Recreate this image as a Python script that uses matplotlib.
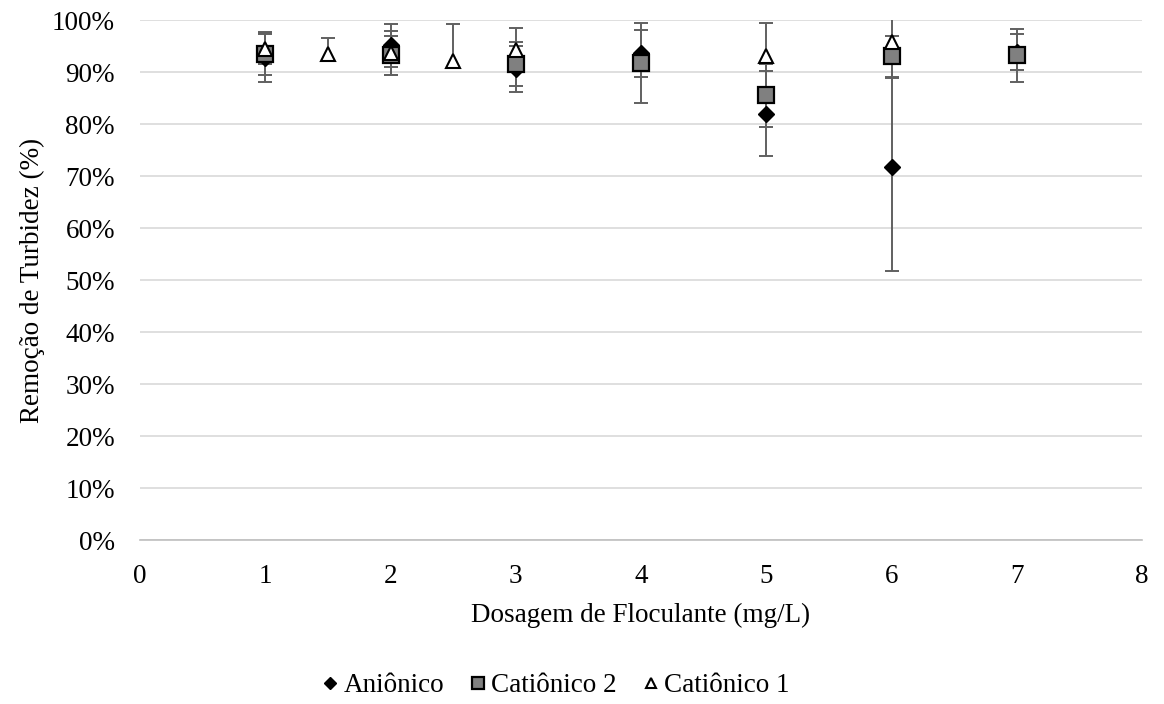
import matplotlib
matplotlib.use("Agg")
import matplotlib.pyplot as plt
from matplotlib.ticker import FuncFormatter, MultipleLocator

plt.rcParams["font.family"] = ["Liberation Serif", "DejaVu Serif"]

# Turbidity removal (%) versus flocculant dose (mg/L)
dose_anionico = [1, 2, 3, 4, 5, 6, 7]
rem_anionico = [92.7, 95.1, 90.6, 93.6, 82.0, 71.7, 93.8]
err_anionico = [4.6, 4.1, 4.4, 4.5, 8.1, 20.0, 3.5]

dose_cationico2 = [1, 2, 3, 4, 5, 6, 7]
rem_cationico2 = [93.5, 93.2, 91.5, 91.7, 85.5, 93.0, 93.2]
err_cationico2 = [4.0, 3.8, 4.2, 7.7, 6.0, 4.0, 5.1]

dose_cationico1 = [1, 1.5, 2, 2.5, 3, 5, 6]
rem_cationico1 = [94.4, 93.5, 93.7, 92.2, 94.3, 93.1, 95.8]
err_cationico1_low = [2.8, 1.3, 4.2, 1.3, 4.2, 6.4, 7.0]
err_cationico1_high = [3.2, 3.1, 4.2, 7.0, 4.2, 6.4, 7.0]

FS = 19.5

fig = plt.figure(figsize=(11.64, 7.04), dpi=100)
ax = fig.add_axes([140 / 1164, 1 - 540 / 704, (1142 - 140) / 1164, 520 / 704])

bar_kw = dict(fmt="none", ecolor="#606060", elinewidth=1.4, capsize=5,
              capthick=1.4, zorder=2)
ax.errorbar(dose_anionico, rem_anionico, yerr=err_anionico, **bar_kw)
ax.errorbar(dose_cationico2, rem_cationico2, yerr=err_cationico2, **bar_kw)
ax.errorbar(dose_cationico1, rem_cationico1,
            yerr=[err_cationico1_low, err_cationico1_high], **bar_kw)

h1, = ax.plot(dose_anionico, rem_anionico, linestyle="none", marker="D",
              markersize=8.5, markerfacecolor="black", markeredgecolor="black",
              zorder=3, label="Aniônico")
h2, = ax.plot(dose_cationico2, rem_cationico2, linestyle="none", marker="s",
              markersize=11, markerfacecolor="#808080",
              markeredgecolor="black", markeredgewidth=1.6, zorder=4,
              label="Catiônico 2")
h3, = ax.plot(dose_cationico1, rem_cationico1, linestyle="none", marker="^",
              markersize=10.5, markerfacecolor="white", markeredgecolor="black",
              markeredgewidth=1.5, zorder=5, label="Catiônico 1")

ax.set_xlim(0, 8)
ax.set_ylim(0, 100)
ax.xaxis.set_major_locator(MultipleLocator(1))
ax.yaxis.set_major_locator(MultipleLocator(10))
ax.yaxis.set_major_formatter(FuncFormatter(lambda v, p: f"{v:.0f}%"))

ax.grid(axis="y", color="#d9d9d9", linewidth=1.2, zorder=0)
ax.set_axisbelow(True)
for side in ("left", "right", "top"):
    ax.spines[side].set_visible(False)
ax.spines["bottom"].set_color("#bfbfbf")
ax.spines["bottom"].set_linewidth(1.2)
ax.tick_params(axis="both", length=0, labelsize=FS, colors="black")
ax.tick_params(axis="x", pad=17)
ax.tick_params(axis="y", pad=18)

ax.set_xlabel("Dosagem de Floculante (mg/L)", fontsize=FS, labelpad=10)
ax.set_ylabel("Remoção de Turbidez (%)", fontsize=FS, labelpad=5)

fig.legend(handles=[h1, h2, h3], loc="center", ncol=3, frameon=False,
           bbox_to_anchor=(555 / 1164, 1 - 686 / 704), fontsize=FS,
           markerscale=0.75, handlelength=0.7, handletextpad=0.15,
           columnspacing=0.9)

fig.savefig("out.png", dpi=100)
